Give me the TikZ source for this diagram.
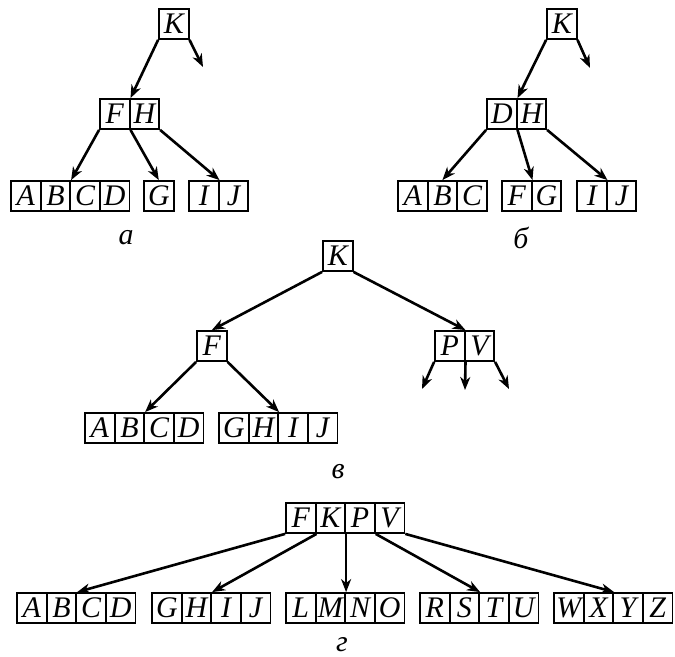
\documentclass[tikz,border=0pt]{standalone}
\usepackage{fontspec}
\setmainfont{Liberation Serif}
\usetikzlibrary{arrows.meta}

\tikzset{
  cell/.style={draw, line width=1.8bp, minimum width=29.6bp, minimum height=30bp,
    inner sep=0pt, font=\fontsize{30}{32}\selectfont\itshape},
  link/.style={->, line width=2.6bp},
  caption/.style={font=\fontsize{30}{32}\selectfont\itshape}
}

% a row of cells: name prefix, left x, top y, letters
\newcommand\cellrow[4]{%
  \foreach \l [count=\i] in {#4}
    \node[cell] (#1\l) at ({#2+29.6*\i-14.8},{#3+15}) {\l};}

\begin{document}
\begin{tikzpicture}[>={Stealth[length=13bp,width=10bp,inset=4bp]}, x=1bp, y=-1bp]
\useasboundingbox (0,0) rectangle (675,657);

% a
\cellrow{a}{159}{9}{K}
\cellrow{a}{100}{99}{F,H}
\cellrow{a}{11}{181}{A,B,C,D}
\cellrow{a}{144}{181}{G}
\cellrow{a}{189}{181}{I,J}
\coordinate (aout) at (203,67);
\draw[link] (aK.south west) -- (aF.north east);
\draw[link] (aK.south east) -- (aout);
\draw[link] (aF.south west) -- (aB.north east);
\draw[link] (aF.south east) -- (aG.north);
\draw[link] (aH.south east) -- (aI.north east);
\node[caption] (capa) at (126,238) {а};

% b
\cellrow{b}{547}{9}{K}
\cellrow{b}{487}{99}{D,H}
\cellrow{b}{398}{181}{A,B,C}
\cellrow{b}{502}{181}{F,G}
\cellrow{b}{577}{181}{I,J}
\coordinate (bout) at (590,68);
\draw[link] (bK.south west) -- (bD.north east);
\draw[link] (bK.south east) -- (bout);
\draw[link] (bD.south west) -- (bB.north);
\draw[link] (bD.south east) -- (bF.north east);
\draw[link] (bH.south east) -- (bI.north east);
\node[caption] (capb) at (521,238) {б};

% c
\cellrow{c}{323}{241}{K}
\cellrow{c}{197}{331}{F}
\cellrow{c}{435}{331}{P,V}
\cellrow{c}{85}{413}{A,B,C,D}
\cellrow{c}{219}{413}{G,H,I,J}
\coordinate (cout1) at (422,389);
\coordinate (cout2) at (465,390);
\coordinate (cout3) at (509,389);
\draw[link] (cK.south west) -- (cF.north);
\draw[link] (cK.south east) -- (cP.north east);
\draw[link] (cF.south west) -- (cB.north east);
\draw[link] (cF.south east) -- (cH.north east);
\draw[link] (cP.south west) -- (cout1);
\draw[link] (cP.south east) -- (cout2);
\draw[link] (cV.south east) -- (cout3);
\node[caption] (capc) at (338,472) {в};

% d
\cellrow{d}{286}{503}{F,K,P,V}
\cellrow{d}{17}{593}{A,B,C,D}
\cellrow{d}{152}{593}{G,H,I,J}
\cellrow{d}{286}{593}{L,M,N,O}
\cellrow{d}{420}{593}{R,S,T,U}
\cellrow{d}{554}{593}{W,X,Y,Z}
\draw[link] (dF.south west) -- (dB.north east);
\draw[link] (dF.south east) -- (dH.north east);
\draw[link] (dK.south east) -- (dM.north east);
\draw[link] (dP.south east) -- (dS.north east);
\draw[link] (dV.south east) -- (dX.north east);
\node[caption] (capd) at (342,645) {г};

\end{tikzpicture}
\end{document}
